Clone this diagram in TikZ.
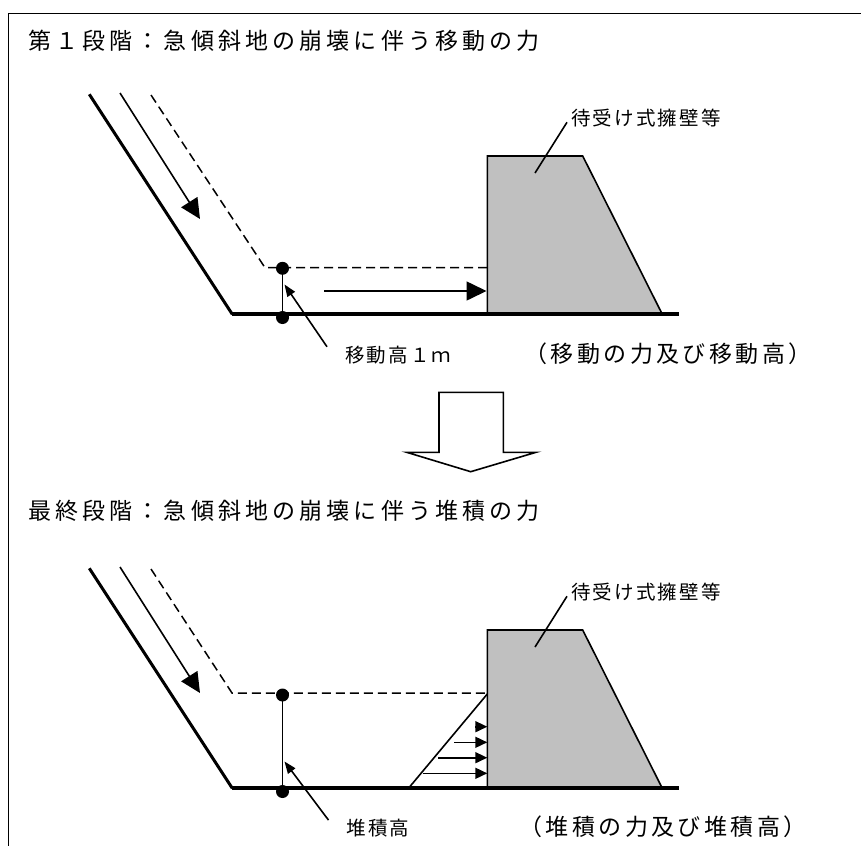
\documentclass[tikz,border=0pt]{standalone}
\usepackage{fontspec}
\usepackage{tikz}
\usetikzlibrary{arrows.meta}
\newfontfamily\jptitle{Noto Sans CJK JP}[LetterSpace=18]
\newfontfamily\jpbig{Noto Sans CJK JP}[LetterSpace=15]
\newfontfamily\jpsmall{Noto Sans CJK JP}[LetterSpace=11]
\definecolor{wallgray}{HTML}{C0C0C0}
\pgfmathsetmacro{\stageshift}{474}

\begin{document}
\begin{tikzpicture}[x=1pt, y=-1pt,
		groundline/.style={line width=4pt},
		slopeline/.style={line width=3pt},
		fineline/.style={line width=1.6pt},
		debrisline/.style={line width=1.5pt, dash pattern=on 9pt off 5pt},
		flowarrow/.style={line width=1.6pt, arrows={-Triangle[length=20pt, width=19pt]}},
		leaderarrow/.style={line width=1.6pt, arrows={-Triangle[length=12pt, width=9pt]}},
		pressarrow/.style={line width=1.6pt, arrows={-Triangle[length=12pt, width=11pt]}},
		wallbody/.style={fill=wallgray, draw, line width=1.6pt},
		hdot/.style={circle, fill, inner sep=0pt, minimum size=13pt},
		titletext/.style={font={\jptitle\fontsize{23pt}{23pt}\selectfont}, inner sep=0pt, anchor=west},
		bigtext/.style={font={\jpbig\fontsize{23pt}{23pt}\selectfont}, inner sep=0pt, anchor=west},
		smalltext/.style={font={\jpsmall\fontsize{19.5pt}{19.5pt}\selectfont}, inner sep=0pt, anchor=west}]
		\useasboundingbox (0,0) rectangle (861,846);
		\draw[line width=1.5pt] (861,13.3) -- (8.3,13.3) -- (8.3,846);

		\node[titletext] (title1) at (28,41) {第１段階：急傾斜地の崩壊に伴う移動の力};
		\node[titletext] (title2) at (28,511) {最終段階：急傾斜地の崩壊に伴う堆積の力};

		\draw[wallbody] (487.3,156) -- (582.7,156) -- (662.3,314.3) -- (487.3,314.3) -- cycle;
		\draw[slopeline] (89.3,94.3) -- (232.3,314.3);
		\draw[groundline] (232.3,314.3) -- (679,314.3);
		\draw[debrisline] (151,95) -- (265,267.7) -- (487.3,267.7);
		\coordinate (flowA1) at (120,93);
		\coordinate (flowB1) at (200,219);
		\draw[flowarrow] (flowA1) -- (flowB1);
		\coordinate (moveA) at (324,291);
		\coordinate (moveB) at (486.5,291);
		\draw[flowarrow] (moveA) -- (moveB);
		\node[hdot] (htop1) at (282.5,268.3) {};
		\node[hdot] (hbot1) at (282.5,317.5) {};
		\draw[fineline] (htop1.center) -- (hbot1.center);
		\node[smalltext] (hlab1) at (345,355) {移動高１ｍ};
		\coordinate (hpt1) at (284.5,284.5);
		\draw[leaderarrow] ([xshift=-18pt, yshift=-1pt]hlab1.north west) -- (hpt1);
		\node[smalltext] (wlab1) at (571,118) {待受け式擁壁等};
		\coordinate (wpt1) at (535,173);
		\draw[fineline] (wpt1) -- ([xshift=-4pt, yshift=5pt]wlab1.south west);
		\node[bigtext] (cap1) at (524,353.3) {（移動の力及び移動高）};

		\draw[fineline, fill=white] (439,392.3) -- (503.3,392.3) -- (503.3,452.3) -- (536,452.3) -- (470.7,471.7) -- (406.7,452.3) -- (439,452.3) -- cycle;

		\begin{scope}[shift={(0,\stageshift)}]
			\draw[wallbody] (487.3,156) -- (582.7,156) -- (662.3,314.3) -- (487.3,314.3) -- cycle;
			\draw[slopeline] (89.3,94.3) -- (232.3,314.3);
			\draw[groundline] (232.3,314.3) -- (679,314.3);
			\draw[debrisline] (151,95) -- (232,219) -- (487.3,219);
			\coordinate (flowA2) at (120,93);
			\coordinate (flowB2) at (200,219);
			\draw[flowarrow] (flowA2) -- (flowB2);
			\draw[fineline] (408.3,314.5) -- (487.3,220);
			\foreach \yy/\xx in {252.7/475, 268.3/454, 283.7/438.3, 299.3/422.7}
				\draw[pressarrow] (\xx,\yy) -- (487.3,\yy);
			\node[hdot] (htop2) at (282.5,221) {};
			\node[hdot] (hbot2) at (282.5,317.5) {};
			\draw[fineline] (htop2.center) -- (hbot2.center);
			\node[smalltext] (hlab2) at (346.5,354.3) {堆積高};
			\coordinate (hpt2) at (284.5,287.5);
			\draw[leaderarrow] ([xshift=-18pt, yshift=-1pt]hlab2.north west) -- (hpt2);
			\node[smalltext] (wlab2) at (571,118) {待受け式擁壁等};
			\coordinate (wpt2) at (535,173);
			\draw[fineline] (wpt2) -- ([xshift=-4pt, yshift=5pt]wlab2.south west);
			\node[bigtext] (cap2) at (519,352.7) {（堆積の力及び堆積高）};
		\end{scope}
	\end{tikzpicture}
\end{document}
